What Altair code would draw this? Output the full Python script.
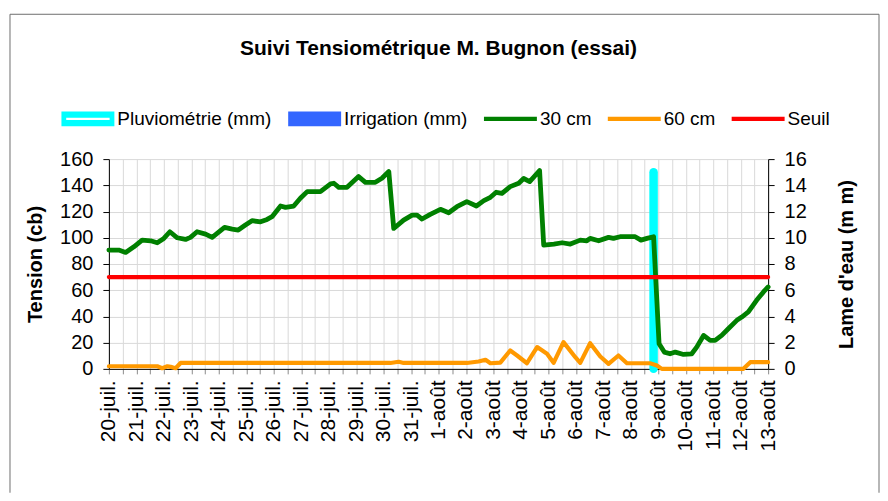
import json
import altair as alt
import pandas as pd

FONT = "Liberation Sans"

# ---- data (x = days since 20-juil.) ----
etiquettes = ["20-juil.", "21-juil.", "22-juil.", "23-juil.", "24-juil.", "25-juil.",
              "26-juil.", "27-juil.", "28-juil.", "29-juil.", "30-juil.", "31-juil.",
              "1-août", "2-août", "3-août", "4-août", "5-août", "6-août", "7-août",
              "8-août", "9-août", "10-août", "11-août", "12-août", "13-août"]

j30 = [0, 0.36, 0.61, 0.91, 1.21, 1.52, 1.76, 2.0, 2.22, 2.49, 2.79, 2.97, 3.21, 3.52,
       3.76, 3.94, 4.21, 4.49, 4.71, 4.97, 5.21, 5.52, 5.76, 5.94, 6.25, 6.43, 6.73, 6.97,
       7.22, 7.70, 8.07, 8.19, 8.37, 8.67, 9.09, 9.34, 9.70, 9.94, 10.19, 10.37, 10.73,
       11.04, 11.22, 11.4, 11.7, 12.07, 12.37, 12.67, 13.03, 13.38, 13.65, 13.89, 14.1,
       14.31, 14.61, 14.92, 15.1, 15.32, 15.68, 15.83, 16.2, 16.5, 16.8, 17.16, 17.4,
       17.52, 17.83, 18.19, 18.37, 18.61, 19.16, 19.37, 19.59, 19.83, 20.03, 20.22, 20.43,
       20.62, 20.92, 21.22, 21.4, 21.65, 21.89, 22.07, 22.31, 22.55, 22.86, 23.04, 23.28,
       23.58, 23.83, 24.0]
v30 = [90.6, 90.6, 88.8, 93.1, 98.2, 97.7, 96.2, 99.5, 104.6, 100, 98.7, 100.3, 104.6,
       102.8, 100.3, 103.3, 107.9, 106.6, 105.9, 109.7, 113, 112.2, 114, 116.1, 124.2,
       123.2, 124.2, 130.1, 135.2, 135.2, 141.1, 141.6, 138.5, 138.5, 146.7, 142.3, 142.3,
       145.4, 150.5, 107.1, 113.5, 117.3, 117.3, 114.3, 117.9, 121.7, 119.1, 123.7, 127.6,
       124.2, 128.3, 130.9, 134.7, 133.9, 139, 141.6, 145.2, 142.9, 151.3, 94.4, 95.2,
       96.2, 95.2, 98.2, 97.7, 99.5, 97.7, 100.3, 99.5, 100.8, 100.8, 98.2, 99.5, 100.8,
       19.1, 12.8, 11.5, 12.8, 11, 11.5, 16.6, 25.5, 21.7, 21.7, 25.5, 30.6, 37, 39.5,
       43.4, 52.3, 58.7, 62.5]

j60 = [0, 1.76, 1.94, 2.13, 2.3, 2.43, 2.61, 10.25, 10.55, 10.73, 13.03, 13.46, 13.71,
       13.89, 14.25, 14.61, 14.86, 15.22, 15.59, 15.95, 16.19, 16.55, 16.98, 17.16, 17.52,
       17.89, 18.19, 18.55, 18.86, 19.7, 19.95, 20.13, 23.1, 23.35, 24.0]
v60 = [2, 2, 0.5, 2, 1.3, 0.5, 4.5, 4.5, 5.4, 4.5, 4.5, 5.6, 6.9, 4.3, 4.8, 14, 10.2, 4.3,
       16.6, 11.5, 4.6, 20.4, 8.9, 4.6, 19.6, 9.4, 3.8, 10.2, 4.3, 4.3, 2.6, 0, 0, 5.1, 5.1]

seuil_j = [0, 24]
seuil_v = [70, 70]

pluie_j = [19.83]
pluie_mm = [15]

series = ["Pluviométrie (mm)", "Irrigation (mm)", "30 cm", "60 cm", "Seuil"]
couleurs = ["#00FFFF", "#3366FF", "#008000", "#FF9900", "#FF0000"]
formes = [
    "M-1,-0.28H1V0.28H-1Z M-0.82,-0.04V0.04H0.82V-0.04Z",
    "M-1,-0.28H1V0.28H-1Z",
    "M-1,-0.08H1V0.08H-1Z",
    "M-1,-0.08H1V0.08H-1Z",
    "M-1,-0.08H1V0.08H-1Z",
]

# ---- encodings ----
demi_jours = [i / 2 for i in range(49)]
label_expr = ("datum.value % 1 == 0 ? " + json.dumps(etiquettes, ensure_ascii=False)
              + "[datum.value] : ''")

x_enc = alt.X("jour:Q",
              scale=alt.Scale(domain=[0, 24], nice=False, zero=False),
              axis=alt.Axis(values=demi_jours, labelExpr=label_expr, labelAngle=270,
                            labelFontSize=21, labelPadding=6, labelOverlap=False,
                            labelFlush=False, labelBound=False, tickSize=5,
                            tickColor="#8c8c8c", domainColor="#000000", grid=True,
                            gridColor="#D9D9D9", title=None, labelColor="#000000"))

y_left = alt.Y("val:Q",
               scale=alt.Scale(domain=[0, 160], nice=False),
               axis=alt.Axis(values=list(range(0, 161, 20)), title="Tension (cb)",
                             titleFontSize=20, titleFontWeight="bold", labelFontSize=20,
                             tickSize=6, labelPadding=10, titlePadding=14, grid=True,
                             gridColor="#D9D9D9", domainColor="#000000",
                             tickColor="#000000", labelColor="#000000",
                             titleColor="#000000"))

y_right = alt.Y("mm:Q",
                scale=alt.Scale(domain=[0, 16], nice=False),
                axis=alt.Axis(orient="right", values=list(range(0, 17, 2)),
                              title="Lame d'eau (m m)", titleAngle=270,
                              titleFontSize=20, titleFontWeight="bold",
                              labelFontSize=20, tickSize=6, labelPadding=10,
                              titlePadding=50, grid=False, domainColor="#000000",
                              tickColor="#000000", labelColor="#000000",
                              titleColor="#000000"))

df30 = pd.DataFrame({"jour": j30, "val": v30})
df60 = pd.DataFrame({"jour": j60, "val": v60})
dfs = pd.DataFrame({"jour": seuil_j, "val": seuil_v})
dfp = pd.DataFrame({"jour": pluie_j, "mm": pluie_mm})
dfl = pd.DataFrame({"serie": series})
one = pd.DataFrame({"a": [0]})

line_style = dict(strokeJoin="round", strokeCap="round")

pluie = alt.Chart(dfp).mark_rule(color="#00FFFF", strokeWidth=8.5, strokeCap="round").encode(
    x=x_enc, y=y_right, y2=alt.datum(0))

l30 = alt.Chart(df30).mark_line(color="#008000", strokeWidth=4.8, **line_style).encode(x=x_enc, y=y_left)
l60 = alt.Chart(df60).mark_line(color="#FF9900", strokeWidth=4.2, **line_style).encode(x=x_enc, y=y_left)
lseuil = alt.Chart(dfs).mark_line(color="#FF0000", strokeWidth=4.2, **line_style).encode(x=x_enc, y=y_left)
gauche = alt.layer(l30, l60, lseuil)

leg = alt.Legend(orient="none", legendX=-47.5, legendY=-67, direction="horizontal",
                 columns=5, title=None, labelFontSize=19, labelFont=FONT,
                 labelColor="#000000", symbolSize=2809, symbolStrokeWidth=0,
                 labelOffset=3, columnPadding=16, padding=0, labelLimit=400)
legende = alt.Chart(dfl).mark_point(filled=True, opacity=1).encode(
    color=alt.Color("serie:N", scale=alt.Scale(domain=series, range=couleurs), legend=leg),
    shape=alt.Shape("serie:N", scale=alt.Scale(domain=series, range=formes), legend=leg),
).transform_filter("false")

cadre_style = dict(color="#6e6e6e", strokeWidth=1)
cadre_g = alt.Chart(one).mark_rule(**cadre_style).encode(x=alt.value(-99), y=alt.value(-145), y2=alt.value(334))
cadre_d = alt.Chart(one).mark_rule(**cadre_style).encode(x=alt.value(771), y=alt.value(-145), y2=alt.value(334))
cadre_h = alt.Chart(one).mark_rule(**cadre_style).encode(x=alt.value(-99), x2=alt.value(771), y=alt.value(-145))

chart = alt.layer(cadre_g, cadre_d, cadre_h, pluie, gauche, legende).resolve_scale(
    y="independent"
).properties(
    width=660,
    height=210,
    padding={"left": 1, "top": 5, "right": 0, "bottom": 0},
    background="white",
    title=alt.TitleParams("Suivi Tensiométrique M. Bugnon (essai)", fontSize=21,
                          fontWeight="bold", font=FONT, anchor="middle", frame="group",
                          offset=-45, color="#000000"),
).configure(font=FONT).configure_view(stroke=None)

chart.save("out.html", embed_options={"renderer": "svg", "actions": False})
